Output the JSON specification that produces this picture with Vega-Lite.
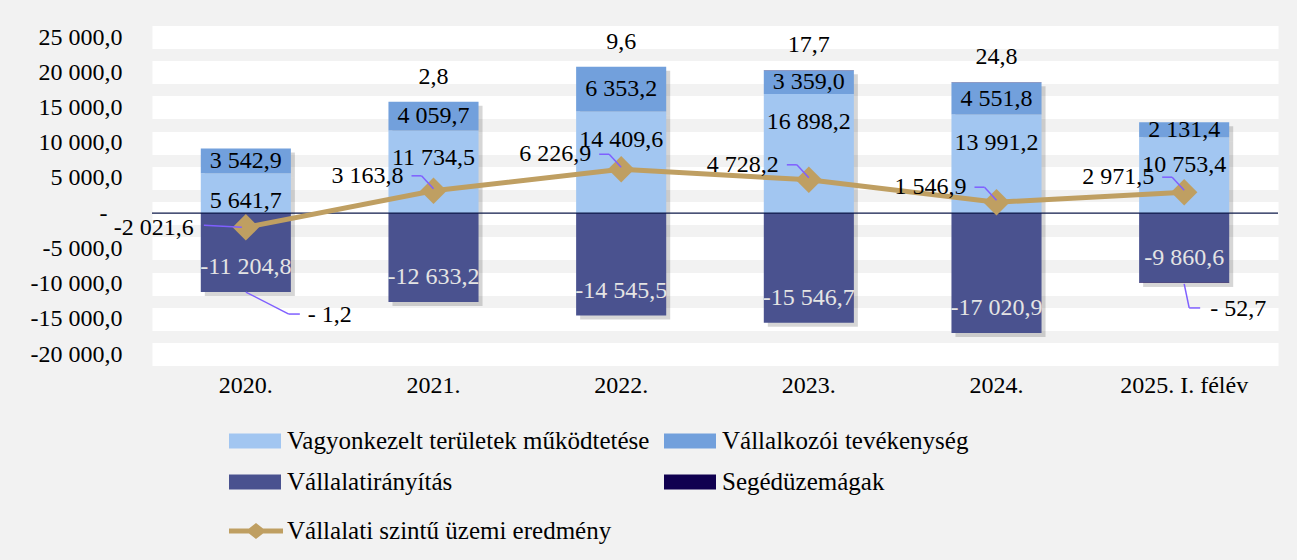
{
  "$schema": "https://vega.github.io/schema/vega-lite/v6.json",
  "width": 1126,
  "height": 317,
  "autosize": {"type": "none"},
  "padding": {"left": 152, "top": 37, "right": 19, "bottom": 206},
  "background": "#F2F2F2",
  "config": {
    "locale": {"number": {"decimal": ",", "thousands": " ", "grouping": [3], "currency": ["", ""], "minus": "-"}},
    "view": {"stroke": null},
    "font": "'Liberation Serif', serif",
    "axis": {"labelOverlap": false},
    "axisY": {"labelOverlap": false, "tickCount": 10, "domain": false, "ticks": false, "grid": true, "gridColor": "#FFFFFF", "gridWidth": 23, "gridOpacity": 1,
      "labelFontSize": 24, "labelFont": "'Liberation Serif', serif", "labelColor": "#000000", "labelPadding": 30, "title": null},
    "text": {"font": "'Liberation Serif', serif", "fontSize": 24, "baseline": "middle"}
  },
  "datasets": {
    "bars": [
      {"year": "2020.", "series": "Vagyonkezelt területek működtetése", "order": 1, "value": 5641.7},
      {"year": "2020.", "series": "Vállalkozói tevékenység", "order": 2, "value": 3542.9},
      {"year": "2020.", "series": "Vállalatirányítás", "order": 3, "value": -11204.8},
      {"year": "2020.", "series": "Segédüzemágak", "order": 4, "value": -1.2},
      {"year": "2021.", "series": "Vagyonkezelt területek működtetése", "order": 1, "value": 11734.5},
      {"year": "2021.", "series": "Vállalkozói tevékenység", "order": 2, "value": 4059.7},
      {"year": "2021.", "series": "Vállalatirányítás", "order": 3, "value": -12633.2},
      {"year": "2021.", "series": "Segédüzemágak", "order": 4, "value": 2.8},
      {"year": "2022.", "series": "Vagyonkezelt területek működtetése", "order": 1, "value": 14409.6},
      {"year": "2022.", "series": "Vállalkozói tevékenység", "order": 2, "value": 6353.2},
      {"year": "2022.", "series": "Vállalatirányítás", "order": 3, "value": -14545.5},
      {"year": "2022.", "series": "Segédüzemágak", "order": 4, "value": 9.6},
      {"year": "2023.", "series": "Vagyonkezelt területek működtetése", "order": 1, "value": 16898.2},
      {"year": "2023.", "series": "Vállalkozói tevékenység", "order": 2, "value": 3359.0},
      {"year": "2023.", "series": "Vállalatirányítás", "order": 3, "value": -15546.7},
      {"year": "2023.", "series": "Segédüzemágak", "order": 4, "value": 17.7},
      {"year": "2024.", "series": "Vagyonkezelt területek működtetése", "order": 1, "value": 13991.2},
      {"year": "2024.", "series": "Vállalkozói tevékenység", "order": 2, "value": 4551.8},
      {"year": "2024.", "series": "Vállalatirányítás", "order": 3, "value": -17020.9},
      {"year": "2024.", "series": "Segédüzemágak", "order": 4, "value": 24.8},
      {"year": "2025. I. félév", "series": "Vagyonkezelt területek működtetése", "order": 1, "value": 10753.4},
      {"year": "2025. I. félév", "series": "Vállalkozói tevékenység", "order": 2, "value": 2131.4},
      {"year": "2025. I. félév", "series": "Vállalatirányítás", "order": 3, "value": -9860.6},
      {"year": "2025. I. félév", "series": "Segédüzemágak", "order": 4, "value": -52.7}
    ],
    "totals": [
      {"year": "2020.", "total": -2021.6},
      {"year": "2021.", "total": 3163.8},
      {"year": "2022.", "total": 6226.9},
      {"year": "2023.", "total": 4728.2},
      {"year": "2024.", "total": 1546.9},
      {"year": "2025. I. félév", "total": 2971.5}
    ]
  },
  "layer": [
    {
      "data": {"name": "bars"},
      "transform": [{"stack": "value", "groupby": ["year"], "sort": [{"field": "order", "order": "ascending"}], "as": ["v0", "v1"]}],
      "mark": {"type": "bar", "color": "#000000", "opacity": 0.16, "xOffset": 4, "yOffset": 4, "y2Offset": 4},
      "encoding": {
        "x": {"field": "year", "type": "nominal", "title": null,
          "scale": {"domain": ["2020.", "2021.", "2022.", "2023.", "2024.", "2025. I. félév"], "paddingInner": 0.52, "paddingOuter": 0.26},
          "axis": {"domain": false, "ticks": false, "labelAngle": 0, "labelFontSize": 24, "labelFont": "'Liberation Serif', serif", "labelColor": "#000000", "labelPadding": 19}},
        "y": {"field": "v0", "type": "quantitative", "title": null,
          "scale": {"domain": [-20000, 25000], "nice": false, "zero": false},
          "axis": {"values": [-20000, -15000, -10000, -5000, 0, 5000, 10000, 15000, 20000, 25000], "format": ",.1f",
            "labelExpr": "datum.value == 0 ? '-' : datum.label", "labelOverlap": false,
            "labelPadding": {"condition": {"test": "datum.value == 0", "value": 45}, "value": 30}}},
        "y2": {"field": "v1"}
      }
    },
    {
      "data": {"name": "bars"},
      "transform": [{"stack": "value", "groupby": ["year"], "sort": [{"field": "order", "order": "ascending"}], "as": ["v0", "v1"]}],
      "mark": {"type": "bar"},
      "encoding": {
        "x": {"field": "year", "type": "nominal", "title": null},
        "y": {"field": "v0", "type": "quantitative", "title": null},
        "y2": {"field": "v1"},
        "color": {"field": "series", "type": "nominal",
          "scale": {"domain": ["Vagyonkezelt területek működtetése", "Vállalkozói tevékenység", "Vállalatirányítás", "Segédüzemágak"],
                    "range": ["#A2C6F1", "#72A0DC", "#4A528F", "#100050"]},
          "legend": {"title": null, "orient": "none", "legendX": 77, "legendY": 378, "columns": 2, "direction": "horizontal", "padding": 0,
            "symbolType": "M-1,-0.29H1V0.29H-1Z", "symbolSize": 2704, "symbolStrokeWidth": 0, "symbolOpacity": 1,
            "labelFontSize": 25, "labelFont": "'Liberation Serif', serif", "labelColor": "#000000", "labelOffset": 6,
            "rowPadding": 2, "columnPadding": 14, "labelLimit": 600}}
      }
    },
    {
      "data": {"values": [{"zero": 0}]},
      "mark": {"type": "rule", "color": "#0E1A4A", "strokeWidth": 1.2},
      "encoding": {"y": {"field": "zero", "type": "quantitative", "title": null}}
    },
    {
      "data": {"name": "totals"},
      "mark": {"type": "line", "color": "#BF9F62", "strokeWidth": 5},
      "encoding": {
        "x": {"field": "year", "type": "nominal", "title": null},
        "y": {"field": "total", "type": "quantitative", "title": null}
      }
    },
    {
      "data": {"name": "totals"},
      "mark": {"type": "point", "shape": "diamond", "filled": true, "size": 700, "opacity": 1},
      "encoding": {
        "x": {"field": "year", "type": "nominal", "title": null},
        "y": {"field": "total", "type": "quantitative", "title": null},
        "color": {"datum": "Vállalati szintű üzemi eredmény", "type": "nominal",
          "scale": {"range": ["#BF9F62"]},
          "legend": {"title": null, "orient": "none", "legendX": 77, "legendY": 467, "padding": 0,
            "symbolType": "M-1,-0.09H-0.26L0,-0.3L0.26,-0.09H1V0.09H0.26L0,0.3L-0.26,0.09H-1Z", "symbolSize": 2916,
            "symbolStrokeWidth": 0, "symbolOpacity": 1,
            "labelFontSize": 25, "labelFont": "'Liberation Serif', serif", "labelColor": "#000000", "labelOffset": 4, "labelLimit": 600}}
      }
    },
    {
      "data": {"name": "totals"},
      "transform": [{"filter": "datum.year != '2020.'"}],
      "mark": {"type": "rule", "color": "#7F5FFF", "strokeWidth": 1.5, "xOffset": -22, "x2Offset": -12, "yOffset": -15, "y2Offset": -15},
      "encoding": {
        "x": {"field": "year", "type": "nominal", "title": null},
        "x2": {"field": "year"},
        "y": {"field": "total", "type": "quantitative", "title": null},
        "y2": {"field": "total"}
      }
    },
    {
      "data": {"name": "totals"},
      "transform": [{"filter": "datum.year != '2020.'"}],
      "mark": {"type": "rule", "color": "#7F5FFF", "strokeWidth": 1.5, "xOffset": -12, "x2Offset": 0, "yOffset": -15, "y2Offset": -2},
      "encoding": {
        "x": {"field": "year", "type": "nominal", "title": null},
        "x2": {"field": "year"},
        "y": {"field": "total", "type": "quantitative", "title": null},
        "y2": {"field": "total"}
      }
    },
    {
      "data": {"name": "totals"},
      "transform": [{"filter": "datum.year == '2020.'"}],
      "mark": {"type": "rule", "color": "#7F5FFF", "strokeWidth": 1.5, "xOffset": -42, "x2Offset": -4, "yOffset": -2, "y2Offset": 0},
      "encoding": {
        "x": {"field": "year", "type": "nominal", "title": null},
        "x2": {"field": "year"},
        "y": {"field": "total", "type": "quantitative", "title": null},
        "y2": {"field": "total"}
      }
    },
    {
      "data": {"name": "bars"},
      "transform": [
        {"stack": "value", "groupby": ["year"], "sort": [{"field": "order", "order": "ascending"}], "as": ["v0", "v1"]},
        {"filter": "datum.order == 1"}
      ],
      "mark": {"type": "text", "dy": 28, "color": "#000000"},
      "encoding": {
        "x": {"field": "year", "type": "nominal", "title": null},
        "y": {"field": "v1", "type": "quantitative", "title": null},
        "text": {"field": "value", "type": "quantitative", "format": ",.1f"}
      }
    },
    {
      "data": {"name": "bars"},
      "transform": [
        {"stack": "value", "groupby": ["year"], "sort": [{"field": "order", "order": "ascending"}], "as": ["v0", "v1"]},
        {"filter": "datum.order == 2"},
        {"fold": ["v0", "v1"], "as": ["edge", "pos"]},
        {"aggregate": [{"op": "mean", "field": "pos", "as": "mid"}], "groupby": ["year", "value"]}
      ],
      "mark": {"type": "text", "color": "#000000"},
      "encoding": {
        "x": {"field": "year", "type": "nominal", "title": null},
        "y": {"field": "mid", "type": "quantitative", "title": null},
        "text": {"field": "value", "type": "quantitative", "format": ",.1f"}
      }
    },
    {
      "data": {"name": "bars"},
      "transform": [
        {"stack": "value", "groupby": ["year"], "sort": [{"field": "order", "order": "ascending"}], "as": ["v0", "v1"]},
        {"filter": "datum.order == 3"}
      ],
      "mark": {"type": "text", "dy": -25, "color": "#E4E4E4"},
      "encoding": {
        "x": {"field": "year", "type": "nominal", "title": null},
        "y": {"field": "v1", "type": "quantitative", "title": null},
        "text": {"field": "value", "type": "quantitative", "format": ",.1f"}
      }
    },
    {
      "data": {"name": "bars"},
      "transform": [
        {"stack": "value", "groupby": ["year"], "sort": [{"field": "order", "order": "ascending"}], "as": ["v0", "v1"]},
        {"filter": "datum.order == 4 && datum.value > 0"}
      ],
      "mark": {"type": "text", "dy": -25, "color": "#000000"},
      "encoding": {
        "x": {"field": "year", "type": "nominal", "title": null},
        "y": {"field": "v1", "type": "quantitative", "title": null},
        "text": {"field": "value", "type": "quantitative", "format": ",.1f"}
      }
    },
    {
      "data": {"name": "bars"},
      "transform": [
        {"stack": "value", "groupby": ["year"], "sort": [{"field": "order", "order": "ascending"}], "as": ["v0", "v1"]},
        {"filter": "datum.order == 4 && datum.year == '2020.'"}
      ],
      "mark": {"type": "text", "dx": 62, "dy": 23, "align": "left", "color": "#000000", "text": {"expr": "'- ' + format(abs(datum.value), ',.1f')"}},
      "encoding": {
        "x": {"field": "year", "type": "nominal", "title": null},
        "y": {"field": "v1", "type": "quantitative", "title": null}
      }
    },
    {
      "data": {"name": "bars"},
      "transform": [
        {"stack": "value", "groupby": ["year"], "sort": [{"field": "order", "order": "ascending"}], "as": ["v0", "v1"]},
        {"filter": "datum.order == 4 && datum.year == '2025. I. félév'"}
      ],
      "mark": {"type": "text", "dx": 26, "dy": 26, "align": "left", "color": "#000000", "text": {"expr": "'- ' + format(abs(datum.value), ',.1f')"}},
      "encoding": {
        "x": {"field": "year", "type": "nominal", "title": null},
        "y": {"field": "v1", "type": "quantitative", "title": null}
      }
    },
    {
      "data": {"name": "bars"},
      "transform": [
        {"stack": "value", "groupby": ["year"], "sort": [{"field": "order", "order": "ascending"}], "as": ["v0", "v1"]},
        {"filter": "datum.order == 4 && datum.year == '2020.'"}
      ],
      "mark": {"type": "rule", "color": "#7F5FFF", "strokeWidth": 1.5, "x2Offset": 43, "y2Offset": 22},
      "encoding": {
        "x": {"field": "year", "type": "nominal", "title": null},
        "x2": {"field": "year"},
        "y": {"field": "v1", "type": "quantitative", "title": null},
        "y2": {"field": "v1"}
      }
    },
    {
      "data": {"name": "bars"},
      "transform": [
        {"stack": "value", "groupby": ["year"], "sort": [{"field": "order", "order": "ascending"}], "as": ["v0", "v1"]},
        {"filter": "datum.order == 4 && datum.year == '2020.'"}
      ],
      "mark": {"type": "rule", "color": "#7F5FFF", "strokeWidth": 1.5, "xOffset": 43, "yOffset": 22, "x2Offset": 54, "y2Offset": 22},
      "encoding": {
        "x": {"field": "year", "type": "nominal", "title": null},
        "x2": {"field": "year"},
        "y": {"field": "v1", "type": "quantitative", "title": null},
        "y2": {"field": "v1"}
      }
    },
    {
      "data": {"name": "bars"},
      "transform": [
        {"stack": "value", "groupby": ["year"], "sort": [{"field": "order", "order": "ascending"}], "as": ["v0", "v1"]},
        {"filter": "datum.order == 4 && datum.year == '2025. I. félév'"}
      ],
      "mark": {"type": "rule", "color": "#7F5FFF", "strokeWidth": 1.5, "xOffset": 0, "yOffset": 1, "x2Offset": 5, "y2Offset": 25},
      "encoding": {
        "x": {"field": "year", "type": "nominal", "title": null},
        "x2": {"field": "year"},
        "y": {"field": "v1", "type": "quantitative", "title": null},
        "y2": {"field": "v1"}
      }
    },
    {
      "data": {"name": "bars"},
      "transform": [
        {"stack": "value", "groupby": ["year"], "sort": [{"field": "order", "order": "ascending"}], "as": ["v0", "v1"]},
        {"filter": "datum.order == 4 && datum.year == '2025. I. félév'"}
      ],
      "mark": {"type": "rule", "color": "#7F5FFF", "strokeWidth": 1.5, "xOffset": 5, "yOffset": 25, "x2Offset": 16, "y2Offset": 25},
      "encoding": {
        "x": {"field": "year", "type": "nominal", "title": null},
        "x2": {"field": "year"},
        "y": {"field": "v1", "type": "quantitative", "title": null},
        "y2": {"field": "v1"}
      }
    },
    {
      "data": {"name": "totals"},
      "transform": [{"filter": "datum.year != '2020.'"}],
      "mark": {"type": "text", "align": "right", "dx": -30, "dy": -15, "color": "#000000"},
      "encoding": {
        "x": {"field": "year", "type": "nominal", "title": null},
        "y": {"field": "total", "type": "quantitative", "title": null},
        "text": {"field": "total", "type": "quantitative", "format": ",.1f"}
      }
    },
    {
      "data": {"name": "totals"},
      "transform": [{"filter": "datum.year == '2020.'"}],
      "mark": {"type": "text", "align": "right", "dx": -52, "dy": 1, "color": "#000000"},
      "encoding": {
        "x": {"field": "year", "type": "nominal", "title": null},
        "y": {"field": "total", "type": "quantitative", "title": null},
        "text": {"field": "total", "type": "quantitative", "format": ",.1f"}
      }
    }
  ],
  "resolve": {"scale": {"color": "independent"}}
}
